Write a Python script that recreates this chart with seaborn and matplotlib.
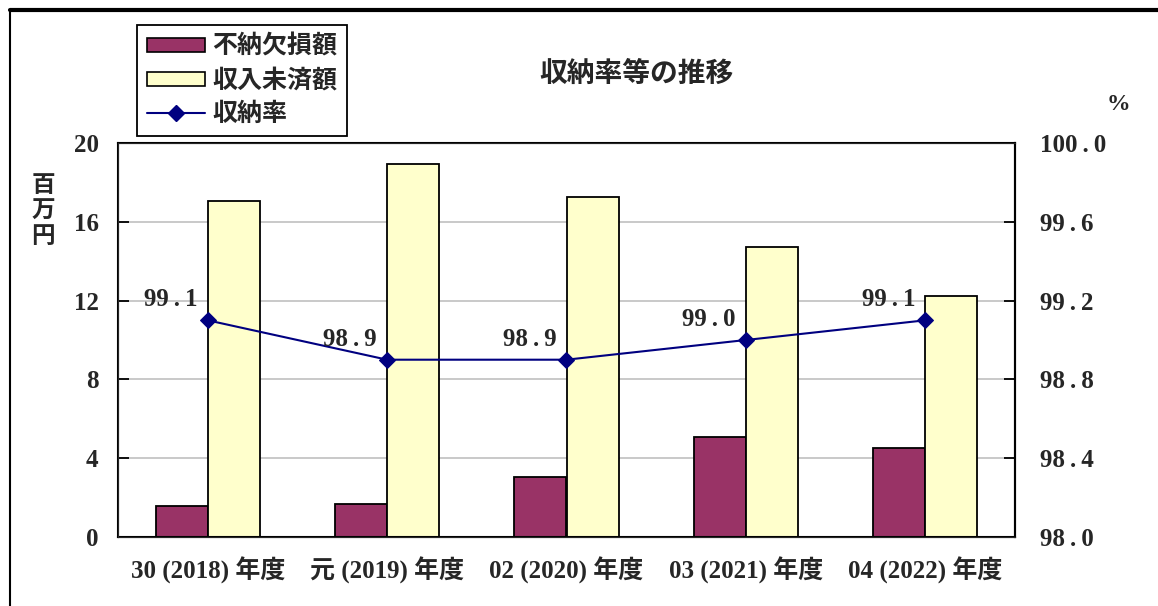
import matplotlib
matplotlib.use("Agg")
import matplotlib.pyplot as plt
from matplotlib.lines import Line2D
import seaborn as sns
import numpy as np
import pandas as pd

years = ["30 (2018) 年度", "元 (2019) 年度", "02 (2020) 年度", "03 (2021) 年度", "04 (2022) 年度"]
funo = [1.57, 1.68, 3.05, 5.08, 4.52]       # 不納欠損額 (百万円)
minou = [17.06, 18.93, 17.26, 14.72, 12.23]  # 収入未済額 (百万円)
rate = [99.1, 98.9, 98.9, 99.0, 99.1]        # 収納率 (%)

series_names = ["不納欠損額", "収入未済額"]
bar_colors = ["#993366", "#FFFFCC"]
line_color = "#000080"


def spaced(v):
    # wide, typewriter-like spacing around the decimal point
    return f"{v:.1f}".replace(".", "\u2009.\u2009")


df = pd.DataFrame({
    "year": years * 2,
    "series": [series_names[0]] * len(years) + [series_names[1]] * len(years),
    "value": funo + minou,
})

sns.set_style("white")
plt.rcParams["font.family"] = ["Liberation Serif", "Noto Sans CJK JP", "DejaVu Sans"]
plt.rcParams["font.weight"] = "bold"

fig = plt.figure(figsize=(11.58, 6.06), dpi=100)
ax = fig.add_axes([118 / 1158, 69 / 606, 897 / 1158, 394 / 606])

sns.barplot(data=df, x="year", y="value", hue="series", order=years,
            hue_order=series_names, palette=bar_colors, width=0.58, gap=0,
            edgecolor="black", linewidth=1.3, saturation=1, legend=False, ax=ax)

ax.set_ylim(0, 20)
ax.set_yticks(np.arange(0, 21, 4))
ax.set_xlim(-0.5, len(years) - 0.5)
ax.set_xlabel("")
ax.set_ylabel("")
ax.yaxis.grid(True, color="#c0c0c0", linewidth=1.2)
ax.set_axisbelow(True)
ax.set_xticks(np.arange(len(years)) + 0.5, minor=True)
ax.tick_params(axis="x", which="major", length=0, pad=14, labelsize=18)
ax.tick_params(axis="x", which="minor", direction="in", length=6, width=1.3, color="black")
ax.tick_params(axis="y", direction="in", length=8, width=1.3, color="black", labelsize=18, pad=14)
for s in ax.spines.values():
    s.set_color("black")
    s.set_linewidth(1.5)

ax2 = ax.twinx()
sns.lineplot(x=np.arange(len(years)), y=rate, color=line_color, linewidth=1.5,
             marker="D", markersize=8, markeredgecolor=line_color, ax=ax2)
ax2.set_ylim(98.0, 100.0)
rticks = np.arange(98.0, 100.01, 0.4)
ax2.set_yticks(rticks)
ax2.set_yticklabels([spaced(v) for v in rticks])
ax2.tick_params(axis="y", direction="in", length=8, width=1.3, color="black", labelsize=18, pad=18)
ax2.spines["right"].set_color("black")
ax2.spines["right"].set_linewidth(1.5)
for i, v in enumerate(rate):
    ax2.annotate(spaced(v), (i, v), xytext=(-10, 9), textcoords="offset pixels",
                 ha="right", va="bottom", fontsize=18, fontweight="bold")

fig.text(636 / 1158, 1 - 75 / 606, "収納率等の推移", ha="center", va="center",
         fontsize=20, fontweight="bold")
fig.text(43 / 1158, 1 - 212 / 606, "百\n万\n円", ha="center", va="center",
         fontsize=17, fontweight="bold", linespacing=1.25)
fig.text(1118 / 1158, 1 - 105 / 606, "%", ha="center", va="center",
         fontsize=17, fontweight="bold")

handles = [
    plt.Rectangle((0, 0), 1, 1, facecolor=bar_colors[0], edgecolor="black", linewidth=1.2),
    plt.Rectangle((0, 0), 1, 1, facecolor=bar_colors[1], edgecolor="black", linewidth=1.2),
    Line2D([0], [0], color=line_color, linewidth=1.5, marker="D", markersize=8),
]
leg = fig.legend(handles, series_names + ["収納率"], loc="upper left",
                 bbox_to_anchor=(137 / 1158, 1 - 25 / 606), borderaxespad=0,
                 fancybox=False, edgecolor="black", framealpha=1,
                 prop={"size": 18, "weight": "bold"},
                 handlelength=2.3, handleheight=0.5, labelspacing=0.4, borderpad=0.4,
                 handletextpad=0.3)
leg.get_frame().set_linewidth(1.3)

# outer frame (left and top edges)
fig.add_artist(Line2D([10 / 1158, 10 / 1158], [0, 1 - 10 / 606], color="black", linewidth=1.5))
fig.add_artist(Line2D([10 / 1158, 1], [1 - 10 / 606, 1 - 10 / 606], color="black", linewidth=3))

fig.savefig("out.png", dpi=100)
